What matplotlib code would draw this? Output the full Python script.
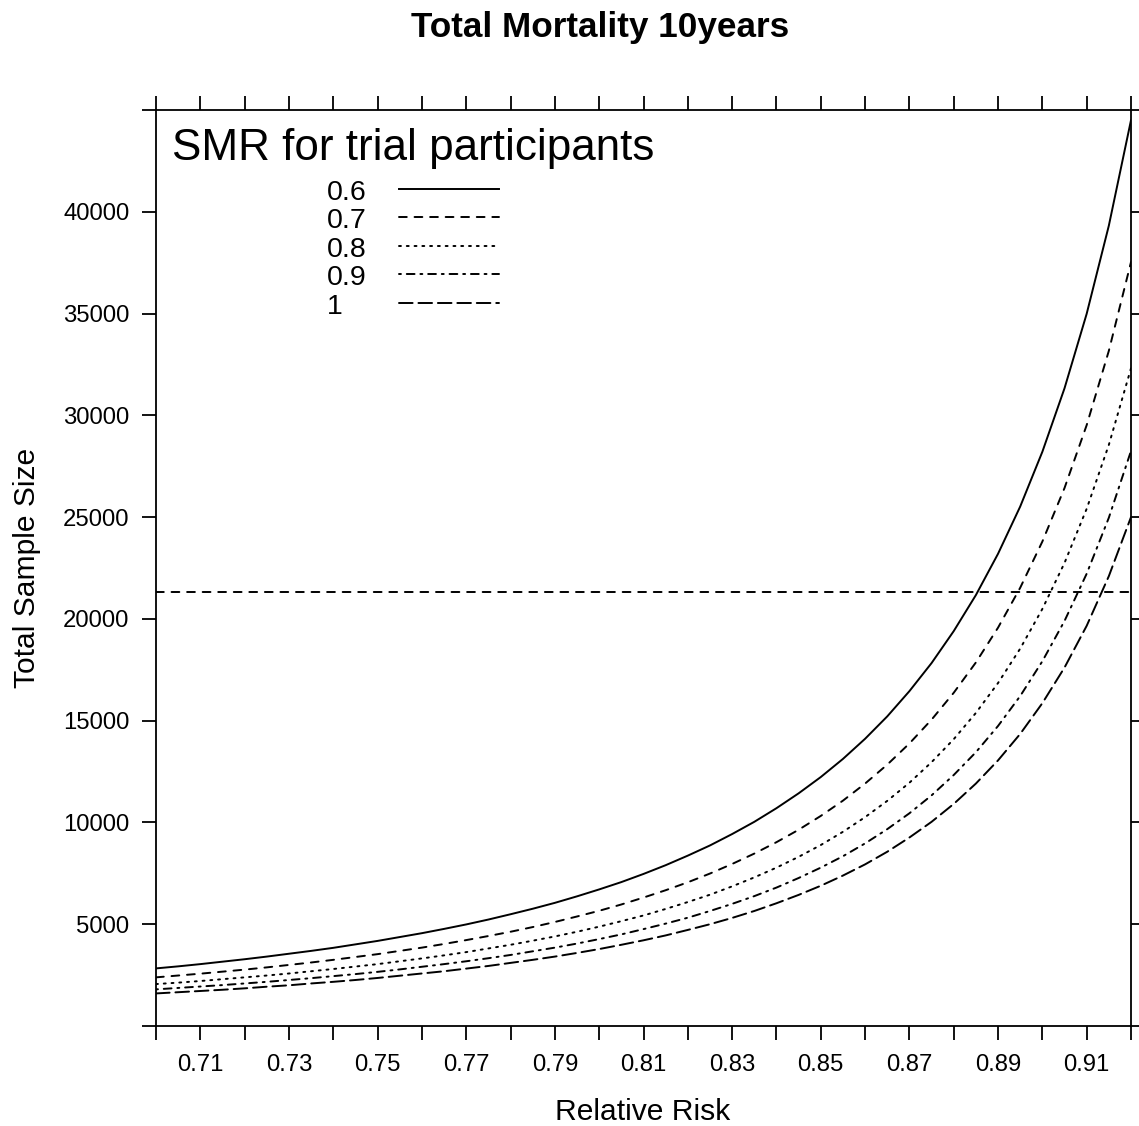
import numpy as np
import matplotlib
matplotlib.use("Agg")
import matplotlib.pyplot as plt

plt.rcParams['font.family'] = ['Liberation Sans', 'DejaVu Sans']

# relative risk grid and total sample size, one list per SMR
rr = [0.700, 0.705, 0.710, 0.715, 0.720, 0.725, 0.730, 0.735, 0.740, 0.745,
      0.750, 0.755, 0.760, 0.765, 0.770, 0.775, 0.780, 0.785, 0.790, 0.795,
      0.800, 0.805, 0.810, 0.815, 0.820, 0.825, 0.830, 0.835, 0.840, 0.845,
      0.850, 0.855, 0.860, 0.865, 0.870, 0.875, 0.880, 0.885, 0.890, 0.895,
      0.900, 0.905, 0.910, 0.915, 0.920]

n_06 = [2830, 2930, 3040, 3160, 3280, 3410, 3550, 3690, 3840, 4010,
        4180, 4370, 4560, 4770, 4990, 5230, 5490, 5760, 6050, 6370,
        6710, 7070, 7470, 7900, 8370, 8870, 9430, 10030, 10700, 11430,
        12230, 13120, 14110, 15210, 16450, 17830, 19400, 21170, 23200, 25520,
        28210, 31330, 34990, 39320, 44500]
n_07 = [2390, 2480, 2570, 2670, 2770, 2880, 3000, 3120, 3250, 3390,
        3530, 3690, 3850, 4030, 4220, 4420, 4630, 4860, 5110, 5380,
        5660, 5970, 6310, 6670, 7060, 7490, 7960, 8470, 9030, 9640,
        10320, 11070, 11910, 12840, 13880, 15050, 16370, 17860, 19570, 21530,
        23800, 26430, 29520, 33170, 37530]
n_08 = [2060, 2130, 2210, 2300, 2390, 2480, 2580, 2690, 2800, 2920,
        3040, 3180, 3320, 3470, 3630, 3810, 3990, 4190, 4400, 4630,
        4880, 5150, 5430, 5750, 6090, 6450, 6860, 7300, 7780, 8310,
        8890, 9540, 10260, 11060, 11950, 12960, 14090, 15380, 16850, 18540,
        20490, 22750, 25410, 28550, 32310]
n_09 = [1800, 1870, 1940, 2010, 2090, 2170, 2260, 2350, 2450, 2550,
        2660, 2780, 2910, 3040, 3180, 3330, 3490, 3670, 3850, 4050,
        4270, 4500, 4760, 5030, 5320, 5650, 6000, 6380, 6800, 7270,
        7780, 8340, 8970, 9670, 10450, 11330, 12330, 13450, 14740, 16210,
        17920, 19900, 22220, 24970, 28250]
n_10 = [1600, 1660, 1720, 1780, 1850, 1930, 2000, 2090, 2170, 2260,
        2360, 2470, 2580, 2690, 2820, 2950, 3100, 3250, 3410, 3590,
        3780, 3990, 4210, 4450, 4720, 5000, 5310, 5650, 6030, 6440,
        6890, 7390, 7940, 8560, 9260, 10030, 10910, 11910, 13050, 14350,
        15860, 17610, 19660, 22100, 25000]

smr_labels = ['0.6', '0.7', '0.8', '0.9', '1']
series = [n_06, n_07, n_08, n_09, n_10]
styles = ['-', (0, (4, 4)), (0, (1, 3)), (0, (1, 3, 4, 3)), (0, (7, 3))]
ref_n = 21300

x_ticks = [0.70, 0.71, 0.72, 0.73, 0.74, 0.75, 0.76, 0.77, 0.78, 0.79, 0.80,
           0.81, 0.82, 0.83, 0.84, 0.85, 0.86, 0.87, 0.88, 0.89, 0.90, 0.91, 0.92]
x_labels = ['', '0.71', '', '0.73', '', '0.75', '', '0.77', '', '0.79', '',
            '0.81', '', '0.83', '', '0.85', '', '0.87', '', '0.89', '', '0.91', '']
y_ticks = [0, 5000, 10000, 15000, 20000, 25000, 30000, 35000, 40000, 45000]
y_labels = ['', '5000', '10000', '15000', '20000', '25000', '30000', '35000', '40000', '']

W, H = 1139, 1126
fig = plt.figure(figsize=(W / 100, H / 100), dpi=100)
ax = fig.add_axes([156 / W, 1 - 1026 / H, (1131 - 156) / W, (1026 - 110) / H])

lw = 1.4
for vals, ls in zip(series, styles):
    ax.plot(rr, vals, color='black', lw=lw, ls=ls, dash_capstyle='round', solid_capstyle='round')
ax.axhline(ref_n, color='black', lw=lw, ls=(0, (4, 4)), dash_capstyle='round')

ax.set_xlim(0.70, 0.92)
ax.set_ylim(0, 45000)
ax.set_xticks(x_ticks)
ax.set_xticklabels(x_labels)
ax.set_yticks(y_ticks)
ax.set_yticklabels(y_labels)
ax.tick_params(direction='out', length=10, width=1.3, top=True, right=True,
               labelsize=17.2, colors='black')
ax.tick_params(axis='x', pad=10)
ax.tick_params(axis='y', pad=9)
for s in ax.spines.values():
    s.set_linewidth(1.3)

# legend drawn by hand, R lattice style
fig.text(172 / W, 1 - 160 / H, 'SMR for trial participants', fontsize=31.7, va='baseline', ha='left')
for i, (lab, ls) in enumerate(zip(smr_labels, styles)):
    yb = 200 + i * 28.4
    fig.text(327 / W, 1 - yb / H, lab, fontsize=20.5, va='baseline', ha='left')
    yl = 1 - (yb - 11) / H
    fig.add_artist(plt.Line2D([399 / W, 499 / W], [yl, yl], transform=fig.transFigure,
                              color='black', lw=lw, ls=ls, dash_capstyle='round'))

fig.text(600 / W, 1 - 37 / H, 'Total Mortality 10years', fontsize=25.3, weight='bold',
         ha='center', va='baseline')
fig.text(643 / W, 1 - 1120 / H, 'Relative Risk', fontsize=21.6, ha='center', va='baseline')
fig.text(35 / W, 1 - 568 / H, 'Total Sample Size', fontsize=21.6, rotation=90,
         rotation_mode='anchor', ha='center', va='baseline')

fig.savefig('out.png', dpi=100)
